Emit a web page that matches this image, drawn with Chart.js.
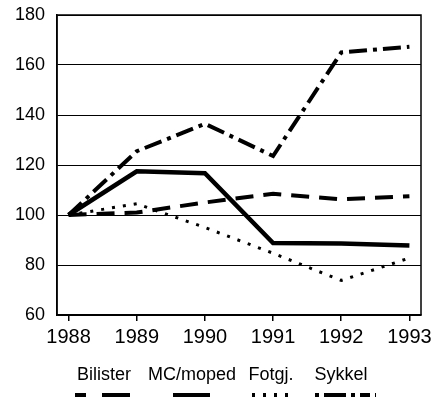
<!DOCTYPE html>
<html>
<head>
<meta charset="utf-8">
<script src="https://cdn.jsdelivr.net/npm/chart.js@4"></script>
<style>
  html, body { margin: 0; padding: 0; background: #fff; }
  #wrap { width: 441px; height: 400px; position: relative; }
</style>
</head>
<body>
<div id="wrap"><canvas id="chart" width="441" height="400"></canvas></div>
<script>
/*************************
 DATA
**************************/
const years = [1988, 1989, 1990, 1991, 1992, 1993];

const bilister = [100, 101, 105, 108.5, 106.3, 107.5];
const mcMoped  = [100, 117.5, 116.7, 88.8, 88.6, 87.8];
const fotgj    = [100, 104.5, 95, 84.7, 73.8, 82.8];
const sykkel   = [100, 125.5, 136.5, 123.6, 165, 167.3];

const yTicks = [60, 80, 100, 120, 140, 160, 180];

const FONT = "'Liberation Sans Narrow', 'Liberation Sans', Arial, sans-serif";

function toPoints(values) {
  return years.map((yr, i) => ({ x: yr, y: values[i] }));
}

/*************************
 LEGEND (text row + line samples below plot)
**************************/
const legendItems = [
  { label: "Bilister",  cx: 104, x1: 75,  x2: 130, dash: [11, 16, 27, 0] },
  { label: "MC/moped",  cx: 192, x1: 173, x2: 210, dash: [] },
  { label: "Fotgj.",    cx: 271, x1: 252, x2: 289, dash: [3, 8] },
  { label: "Sykkel",    cx: 341, x1: 315, x2: 376, dash: [4, 5, 22, 5, 4, 5, 6, 0] }
];

const legendPlugin = {
  id: "bottomLegend",
  afterDraw(chart) {
    const ctx = chart.ctx;
    const area = chart.chartArea;
    ctx.save();

    // box round the plot
    ctx.strokeStyle = "#000";
    ctx.lineWidth = 1.5;
    ctx.setLineDash([]);
    ctx.strokeRect(area.left, area.top, area.right - area.left, area.bottom - area.top);

    ctx.fillStyle = "#000";
    ctx.font = "18px " + FONT;
    ctx.textAlign = "center";
    ctx.textBaseline = "middle";
    legendItems.forEach(item => {
      ctx.fillText(item.label, item.cx, 375);
      ctx.beginPath();
      ctx.lineWidth = 4;
      ctx.setLineDash(item.dash);
      ctx.moveTo(item.x1, 395);
      ctx.lineTo(item.x2, 395);
      ctx.stroke();
    });
    ctx.restore();
  }
};

/*************************
 CHART
**************************/
const ctx = document.getElementById("chart").getContext("2d");
const chart = new Chart(ctx, {
  type: "line",
  data: {
    datasets: [
      { label: "Bilister", data: toPoints(bilister), borderColor: "#000",
        borderWidth: 4, borderDash: [18, 10] },
      { label: "MC/moped", data: toPoints(mcMoped), borderColor: "#000",
        borderWidth: 4.5 },
      { label: "Fotgj.", data: toPoints(fotgj), borderColor: "#000",
        borderWidth: 3, borderDash: [3, 8] },
      { label: "Sykkel", data: toPoints(sykkel), borderColor: "#000",
        borderWidth: 4, borderDash: [18, 6, 4, 6] }
    ]
  },
  options: {
    responsive: false,
    animation: false,
    events: [],
    layout: { padding: { top: 15, right: 20, bottom: 45, left: 0 } },
    elements: {
      point: { radius: 0 },
      line: { tension: 0, fill: false, borderCapStyle: "butt", borderJoinStyle: "miter" }
    },
    plugins: {
      legend: { display: false },
      tooltip: { enabled: false }
    },
    scales: {
      x: {
        type: "linear",
        min: 1987.83,
        max: 1993.17,
        afterBuildTicks: scale => { scale.ticks = years.map(v => ({ value: v })); },
        afterFit: scale => { scale.height = 40; scale.paddingLeft = 0; scale.paddingRight = 0; },
        grid: { display: true, drawOnChartArea: false, drawTicks: true,
                tickLength: 6, color: "#000", lineWidth: 1.5 },
        border: { display: true, color: "#000", width: 1.5 },
        ticks: { color: "#000", font: { family: FONT, size: 20 }, padding: 4,
                 maxRotation: 0, autoSkip: false, callback: v => String(v) }
      },
      y: {
        min: 60,
        max: 180,
        afterBuildTicks: scale => { scale.ticks = yTicks.map(v => ({ value: v })); },
        afterFit: scale => { scale.width = 57; scale.paddingTop = 0; scale.paddingBottom = 0; },
        grid: { color: "#000", lineWidth: 1, drawTicks: false },
        border: { display: true, color: "#000", width: 1.5 },
        ticks: { color: "#000", font: { family: FONT, size: 18 }, padding: 12 }
      }
    }
  },
  plugins: [legendPlugin]
});
</script>
</body>
</html>
